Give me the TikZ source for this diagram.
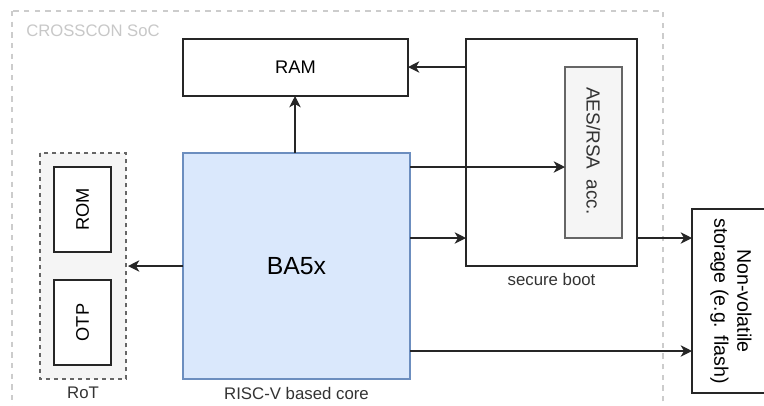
\documentclass[tikz,border=0pt]{standalone}
\usepackage{fontspec}
\setmainfont{Liberation Sans}
\usetikzlibrary{arrows.meta}
\definecolor{bluefill}{HTML}{DAE8FC}
\definecolor{bluedraw}{HTML}{6C8EBF}
\definecolor{grayfill}{HTML}{F5F5F5}
\definecolor{graydraw}{HTML}{666666}
\definecolor{soclines}{HTML}{CCCCCC}
\definecolor{soctext}{HTML}{C8C8C8}
\begin{document}
\begin{tikzpicture}[x=0.75pt,y=-0.75pt,
  every node/.style={font=\fontsize{12.6}{14}\selectfont, inner sep=0pt},
  big/.style={font=\fontsize{13.7}{16}\selectfont},
  blk/.style={draw=black!85, line width=1pt, fill=white},
  conn/.style={draw=black!85, line width=1pt, -{Stealth[length=8.5pt,width=8.5pt,inset=2.5pt]}},
  lbl/.style={text=black!80}
]
\clip (0,0) rectangle (764,405);
\fill[white] (0,0) rectangle (764,405);
% outer SoC boundary
\draw[soclines, line width=1pt, dash pattern=on 4pt off 4pt] (12,11) rectangle (663,430);
\node[anchor=west, text=soctext, font=\fontsize{12.5}{14}\selectfont] (soclbl) at (26,31) {CROSSCON SoC};
% RAM
\draw[blk] (183,39) rectangle (408,96);
\node[big] (ram) at (295.5,67.5) {RAM};
\coordinate (ramS) at (295,96);
\coordinate (ramE) at (408,67);
% BA5x
\draw[draw=bluedraw, fill=bluefill, line width=1pt] (183,153) rectangle (410,379);
\node[font=\fontsize{18.6}{21}\selectfont] (ba) at (296.5,266) {BA5x};
\node[lbl] (bal) at (296.5,393) {RISC-V based core};
\coordinate (baN) at (295,153);
\coordinate (baW) at (183,266);
\coordinate (baE1) at (410,167);
\coordinate (baE2) at (410,238);
\coordinate (baE3) at (410,351);
% RoT
\draw[draw=graydraw, fill=grayfill, line width=1pt, dash pattern=on 3pt off 3pt] (40,153) rectangle (126,379);
\node[lbl] (rotl) at (83,393) {RoT};
\coordinate (rotE) at (128,266);
\draw[blk] (54,167) rectangle (111,252);
\node[rotate=90, big] (rom) at (82.5,209.5) {ROM};
\draw[blk] (54,280) rectangle (111,365);
\node[rotate=90, big] (otp) at (82.5,322.5) {OTP};
% secure boot
\draw[blk] (466,39) rectangle (637,266);
\node[lbl] (sbl) at (551.5,279) {secure boot};
\coordinate (sbW1) at (466,67);
\coordinate (sbW2) at (466,238);
\coordinate (sbE) at (637,238);
% AES/RSA
\draw[draw=graydraw, fill=grayfill, line width=1pt] (565,67) rectangle (622,238);
\node[rotate=-90, text=black!80, font=\fontsize{14.2}{16}\selectfont] (aes) at (593.5,151) {AES/RSA\ \ acc.};
\coordinate (aesW) at (565,167);
% Non-volatile storage
\draw[blk] (692,209) rectangle (772,393);
\node[rotate=-90, align=center, font=\fontsize{14.7}{17.3}\selectfont] (nvs) at (731,301) {Non-volatile\\storage (e.g. flash)};
\coordinate (nvW1) at (692,238);
\coordinate (nvW2) at (692,351);
% connectors
\draw[conn] (baN) -- (ramS);
\draw[conn] (sbW1) -- (ramE);
\draw[conn] (baE1) -- (aesW);
\draw[conn] (baE2) -- (sbW2);
\draw[conn] (sbE) -- (nvW1);
\draw[conn] (baE3) -- (nvW2);
\draw[conn] (baW) -- (rotE);
\end{tikzpicture}
\end{document}
